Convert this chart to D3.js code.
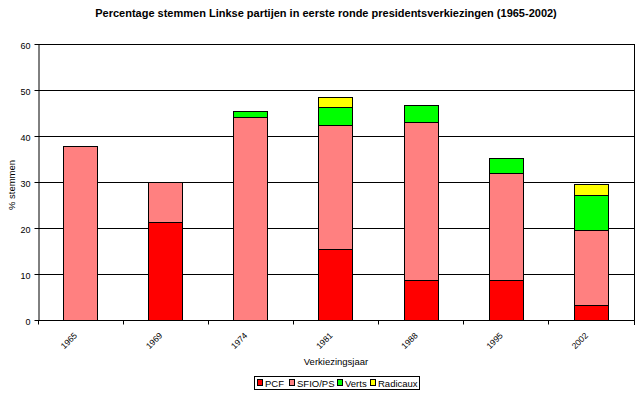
<!DOCTYPE html>
<html><head><meta charset="utf-8">
<script src="https://cdn.jsdelivr.net/npm/d3@7"></script>
<style>body{margin:0;background:#fff}svg{display:block}text{font-family:"Liberation Sans",Arial,sans-serif;fill:#000}</style>
</head><body><svg id="c" width="642" height="394"></svg>
<script>
const years = ["1965","1969","1974","1981","1988","1995","2002"];
const PCF = [0, 21.2, 0, 15.4, 8.6, 8.6, 3.2];
const SFIO = [37.8, 8.8, 44.0, 26.9, 34.3, 23.2, 16.3];
const Verts = [0, 0, 1.3, 3.9, 3.8, 3.3, 7.6];
const Radicaux = [0, 0, 0, 2.2, 0, 0, 2.3];
const seriesNames = ["PCF","SFIO/PS","Verts","Radicaux"];
const colors = ["#ff0000","#ff8080","#00ff00","#ffff00"];
const yTicks = [0,10,20,30,40,50,60];

const rows = years.map((y,i)=>({year:y, "PCF":PCF[i], "SFIO/PS":SFIO[i], "Verts":Verts[i], "Radicaux":Radicaux[i]}));
const stack = d3.stack().keys(seriesNames)(rows);

const svg = d3.select("#c");
const L=38, R=634, T=44, B=320;
const x = d3.scaleBand().domain(years).range([L,R]).paddingInner(0.6).paddingOuter(0.3);
const y = d3.scaleLinear().domain([0,60]).range([B,T]);
const cr = v => Math.floor(v)+0.5;

// gridlines
svg.append("g").selectAll("line").data(yTicks.filter(d=>d>0)).join("line")
  .attr("x1",L).attr("x2",R).attr("y1",d=>cr(y(d))).attr("y2",d=>cr(y(d)))
  .attr("stroke","#000").attr("stroke-width",1);
// right border
svg.append("line").attr("x1",cr(R)).attr("x2",cr(R)).attr("y1",T).attr("y2",B+5).attr("stroke","#000");

// bars
svg.append("g").selectAll("g").data(stack).join("g")
  .attr("fill",(d,i)=>colors[i])
  .selectAll("rect").data(d=>d.filter(s=>s[1]-s[0]>0)).join("rect")
  .attr("x",d=>cr(x(d.data.year)))
  .attr("width",Math.round(x.bandwidth()))
  .attr("y",d=>cr(y(d[1])))
  .attr("height",d=>cr(y(d[0]))-cr(y(d[1])))
  .attr("stroke","#000").attr("stroke-width",1);

// y axis
const ya = svg.append("g").attr("transform",`translate(${cr(L)},0)`)
  .call(d3.axisLeft(y).tickValues(yTicks).tickSize(4).tickPadding(4).tickSizeOuter(0));
ya.select(".domain").attr("stroke","#000");
ya.selectAll(".tick line").attr("stroke","#000").attr("transform","translate(0,0.5)");
ya.selectAll(".tick").attr("transform",d=>`translate(0,${Math.floor(y(d))})`);
ya.selectAll("text").attr("font-size","9px").attr("font-family","Liberation Sans, Arial, sans-serif").attr("dy","0.5em");

// x axis
const xa = svg.append("g").attr("transform",`translate(0,${cr(B)})`);
xa.append("line").attr("x1",L).attr("x2",R+0.5).attr("y1",0).attr("y2",0).attr("stroke","#000");
const bounds = years.map(d=>x(d)-x.step()*x.paddingInner()/2 ).concat([R]);
xa.selectAll("line.tk").data(bounds).join("line").attr("class","tk")
  .attr("x1",d=>cr(d)).attr("x2",d=>cr(d)).attr("y1",0).attr("y2",4).attr("stroke","#000");
svg.append("g").selectAll("text").data(years).join("text")
  .attr("transform",d=>`translate(${x(d)+x.bandwidth()/2-5},${334}) rotate(-45)`)
  .attr("text-anchor","end").attr("font-size","8.5px").attr("dy","0.35em").text(d=>d);

// axis titles
svg.append("text").attr("x",336).attr("y",365).attr("text-anchor","middle").attr("font-size","9.5px").text("Verkiezingsjaar");
svg.append("text").attr("transform","translate(15,185) rotate(-90)").attr("text-anchor","middle").attr("font-size","9.5px").text("% stemmen");

// title
svg.append("text").attr("x",326).attr("y",17).attr("text-anchor","middle").attr("font-size","11px").attr("font-weight","bold").text("Percentage stemmen Linkse partijen in eerste ronde presidentsverkiezingen (1965-2002)");

// legend
const lg = svg.append("g");
lg.append("rect").attr("x",254.5).attr("y",376.5).attr("width",165).attr("height",13).attr("fill","#fff").attr("stroke","#000");
const lx = [257, 289, 337, 370];
seriesNames.forEach((n,i)=>{
  lg.append("rect").attr("x",lx[i]+0.5).attr("y",379.5).attr("width",5).attr("height",6).attr("fill",colors[i]).attr("stroke","#000");
  lg.append("text").attr("x",lx[i]+8).attr("y",386.5).attr("font-size","9.5px").text(n);
});
</script></body></html>
